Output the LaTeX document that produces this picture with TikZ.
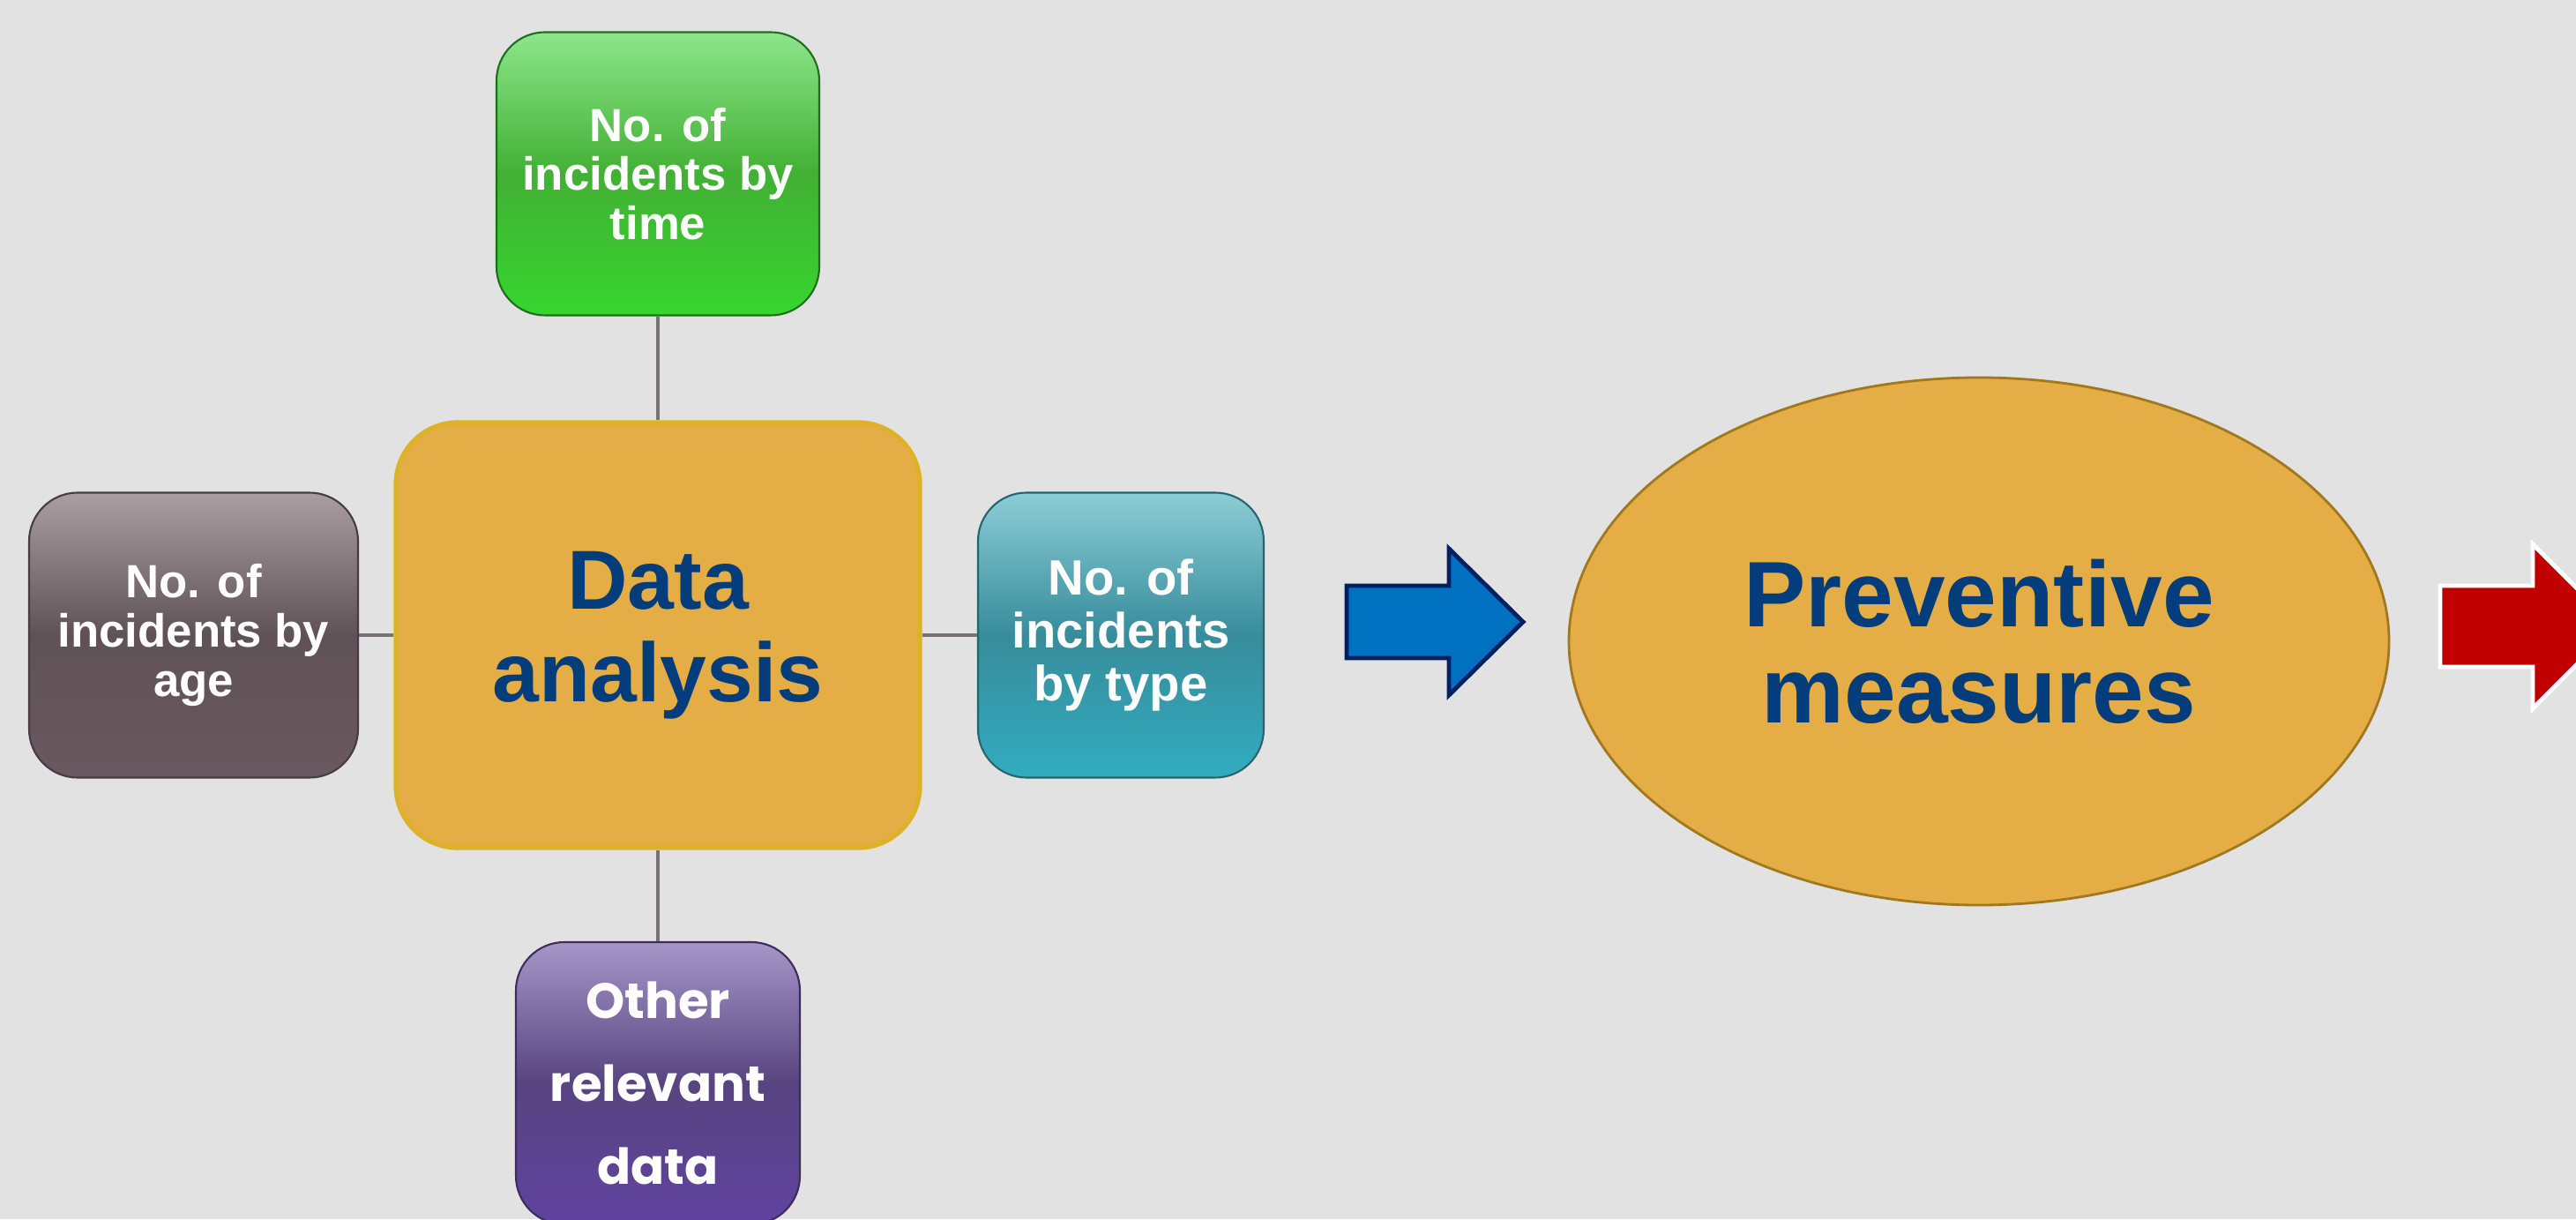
\documentclass[tikz,border=0pt]{standalone}
\usepackage{fontspec}
\setmainfont{Liberation Sans}
\newfontfamily\gothicfont{Poppins}
\usepackage{tikz}
\usetikzlibrary{calc}
\usetikzlibrary{shapes.geometric}

\definecolor{bggray}{RGB}{226,226,226}
\definecolor{txtblue}{RGB}{3,61,124}
\definecolor{gold}{RGB}{229,173,69}
\definecolor{goldedge}{RGB}{222,178,40}
\definecolor{ovaledge}{RGB}{160,120,30}
\definecolor{linkgray}{RGB}{122,112,120}
\definecolor{arrowblue}{RGB}{0,112,192}
\definecolor{arrowdark}{RGB}{0,32,96}
\definecolor{arrowred}{RGB}{192,0,0}

\begin{document}
\begin{tikzpicture}[
    smallbox/.style={rounded corners=0.55cm, minimum width=3.3cm, minimum height=3.23cm,
        inner sep=0pt, align=center, text=white, line width=0.6pt,
        font=\bfseries\fontsize{15}{15.8}\selectfont},
    link/.style={draw=linkgray, line width=1.2pt}
]
    \newcommand{\Yc}{6.62}
    \newcommand{\Xc}{7.46}
    \useasboundingbox (0,0) rectangle (29.21,13.82);
    \fill[bggray] (0,0) rectangle (29.21,13.82);
    \clip (0,0) rectangle (29.21,13.82);
    %\draw[help lines,line width=0.1pt,blue] (0,0) grid (29,13);

    % centre box and the four data boxes
    \node[draw=goldedge, fill=gold, line width=1.5pt, rounded corners=0.7cm,
        minimum width=5.94cm, minimum height=4.82cm, align=center, text=txtblue,
        font=\bfseries\fontsize{27}{29.8}\selectfont] (analysis) at (\Xc,\Yc) {Data\\analysis};
    \node[smallbox, draw={rgb,255:red,30;green,110;blue,30},
        top color={rgb,255:red,141;green,230;blue,138},
        bottom color={rgb,255:red,54;green,214;blue,46},
        middle color={rgb,255:red,66;green,176;blue,52},
        minimum width=3.66cm, minimum height=3.21cm] (bytime) at (\Xc,11.85) {No. of\\incidents by\\time};
    \node[smallbox, draw={rgb,255:red,70;green,60;blue,65},
        top color={rgb,255:red,170;green,158;blue,162},
        bottom color={rgb,255:red,106;green,88;blue,95},
        middle color={rgb,255:red,95;green,82;blue,87},
        minimum width=3.73cm] (byage) at (2.195,\Yc) {No. of\\incidents by\\age};
    \node[smallbox, draw={rgb,255:red,40;green,100;blue,110},
        top color={rgb,255:red,140;green,205;blue,215},
        bottom color={rgb,255:red,50;green,172;blue,192},
        middle color={rgb,255:red,55;green,140;blue,155},
        minimum width=3.24cm, font=\bfseries\fontsize{16}{17}\selectfont] (bytype) at (12.71,\Yc) {No. of\\incidents\\by type};
    \node[smallbox, draw={rgb,255:red,60;green,45;blue,90},
        top color={rgb,255:red,165;green,150;blue,200},
        bottom color={rgb,255:red,96;green,66;blue,160},
        middle color={rgb,255:red,88;green,68;blue,128},
        minimum width=3.22cm, minimum height=3.2cm,
        font=\gothicfont\bfseries\fontsize{16}{26.7}\selectfont] (otherdata) at (\Xc,1.54) {Other\\relevant\\data};

    \draw[link] (bytime) -- (analysis);
    \draw[link] (analysis) -- (otherdata);
    \draw[link] (byage) -- (analysis);
    \draw[link] (analysis) -- (bytype);

    % oval
    \node[ellipse, draw=ovaledge, fill=gold, line width=0.8pt, inner sep=0pt,
        minimum width=9.3cm, minimum height=5.98cm, align=center, text=txtblue,
        font=\bfseries\fontsize{30}{31}\selectfont] (measures) at (22.44,6.55) {Preventive\\measures};

    % block arrows
    \coordinate (bluetail) at (15.27,6.77);
    \coordinate (redtail) at (27.67,6.72);
    \draw[draw=arrowdark, fill=arrowblue, line width=1.4pt, line join=miter]
        (bluetail) ++(0,0.41) -- ++(1.16,0) -- ++(0,0.42) -- ++(0.84,-0.83)
        -- ++(-0.84,-0.83) -- ++(0,0.42) -- ++(-1.16,0) -- cycle;
    \draw[draw=white, fill=arrowred, line width=1.4pt, line join=miter]
        (redtail) ++(0,0.46) -- ++(1.05,0) -- ++(0,0.47) -- ++(0.93,-0.93)
        -- ++(-0.93,-0.93) -- ++(0,0.47) -- ++(-1.05,0) -- cycle;
\end{tikzpicture}
\end{document}
